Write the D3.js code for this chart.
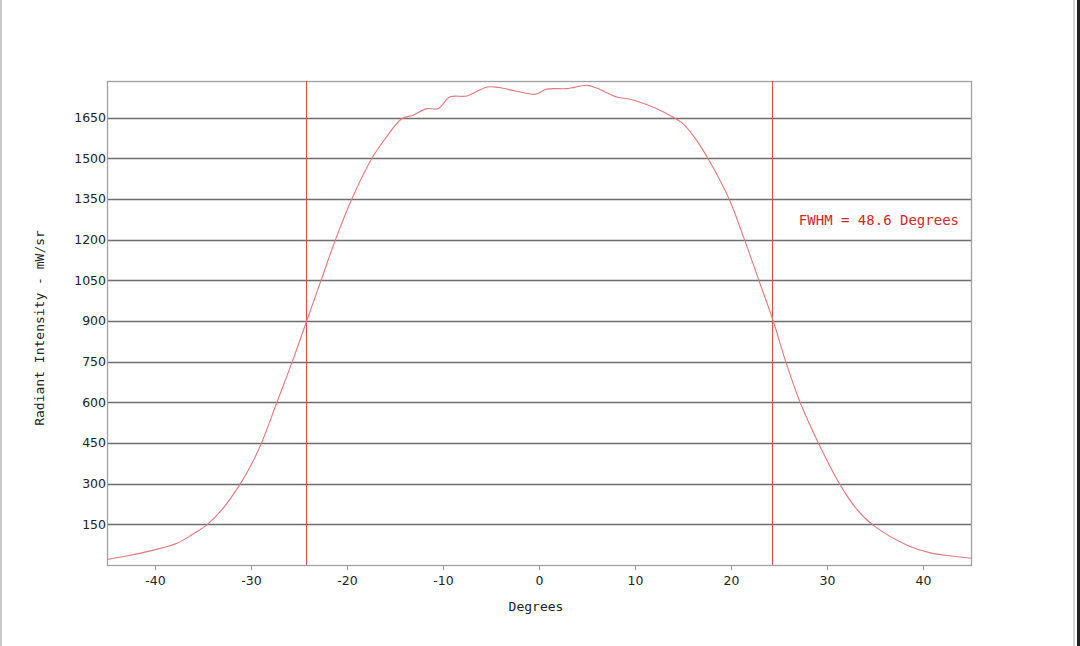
<!DOCTYPE html>
<head>
    <meta charset="utf-8">
    <title>Radiant Intensity vs Degrees</title>
    <style>
        body { margin: 0; background: #fff; }
        .tick text { fill: #222; }
    </style>
</head>
<body>

<script src="https://cdn.jsdelivr.net/npm/d3@7/dist/d3.min.js"></script>

<script>

    // angle (degrees) and radiant intensity (mW/sr)
    const degrees = [-45, -43, -40.5, -37.7, -36, -34.6, -33, -31.1, -29.9, -28.9,
        -27.3, -25.7, -24.2, -22.7, -21.2, -19.5, -17.4, -16.0, -14.3, -13.1,
        -11.7, -10.5, -9.3, -7.5, -5.4, -4.2, -2.3, -0.4, 0.8, 2.9,
        5.0, 6.0, 8.1, 9.5, 11.2, 12.6, 13.6, 15.0, 16.4, 17.8,
        19.8, 21.3, 22.9, 24.4, 25.7, 27.2, 29.1, 31.3, 33, 34.8,
        38.3, 41.0, 43, 45];
    const intensity = [20, 33, 52, 80, 115, 148, 205, 300, 375, 450,
        600, 750, 900, 1050, 1200, 1350, 1500, 1573, 1646, 1659,
        1683, 1683, 1726, 1730, 1763, 1761, 1747, 1736, 1755, 1757,
        1769, 1759, 1726, 1718, 1698, 1677, 1659, 1628, 1567, 1487,
        1350, 1210, 1050, 900, 750, 600, 450, 300, 210, 147,
        74, 43, 33, 25];

    const xTicks = [-40, -30, -20, -10, 0, 10, 20, 30, 40];
    const yTicks = [150, 300, 450, 600, 750, 900, 1050, 1200, 1350, 1500, 1650];
    const fwhmLines = [-24.3, 24.3];
    const fwhmLabel = 'FWHM = 48.6 Degrees';

    const margin = {top: 81, right: 109, bottom: 81, left: 107};
    const W = 1080, H = 646;
    const width = W - margin.left - margin.right;
    const height = H - margin.top - margin.bottom;

    const data = degrees.map((d, i) => ({deg: d, val: intensity[i]}));

    const x = d3.scaleLinear().domain([-45, 45]).range([0, width]);
    const y = d3.scaleLinear().domain([0, 1785]).range([height, 0]);

    const root = d3.select('body').append('svg')
        .attr('width', W)
        .attr('height', H);

    // page frame
    root.append('line').attr('x1', 1).attr('x2', 1).attr('y1', 0).attr('y2', H)
        .attr('stroke', '#c8c8c8').attr('stroke-width', 2);
    root.append('line').attr('x1', 1074).attr('x2', 1074).attr('y1', 0).attr('y2', H)
        .attr('stroke', '#d8d8d8').attr('stroke-width', 2);
    root.append('line').attr('x1', 1078.5).attr('x2', 1078.5).attr('y1', 0).attr('y2', H)
        .attr('stroke', '#222').attr('stroke-width', 3);

    const svg = root.append('g')
        .attr('transform', 'translate(' + margin.left + ',' + margin.top + ')');

    // horizontal grid
    svg.append('g')
        .selectAll('line')
        .data(yTicks)
        .enter().append('line')
        .attr('x1', 0)
        .attr('x2', width)
        .attr('y1', d => Math.round(y(d)) + 0.5)
        .attr('y2', d => Math.round(y(d)) + 0.5)
        .attr('stroke', '#6e6e6e')
        .attr('stroke-width', 1.3);

    // plot frame
    svg.append('rect')
        .attr('x', 0.5).attr('y', 0.5)
        .attr('width', width).attr('height', height)
        .attr('fill', 'none')
        .attr('stroke', '#a0a0a0')
        .attr('stroke-width', 1.3);

    // x axis
    const xAxis = d3.axisBottom(x)
        .tickValues(xTicks)
        .tickSize(5)
        .tickPadding(6)
        .tickFormat(d3.format('d'));

    const gx = svg.append('g')
        .attr('transform', 'translate(0,' + height + ')')
        .call(xAxis);
    gx.select('.domain').remove();
    gx.selectAll('.tick line').attr('stroke', '#999');
    gx.selectAll('.tick text')
        .style('font-family', '"DejaVu Sans", Verdana, sans-serif')
        .style('font-size', '12.5px')
        .text(d => d < 0 ? '-' + Math.abs(d) : d);

    // y axis
    const yAxis = d3.axisLeft(y)
        .tickValues(yTicks)
        .tickSize(0)
        .tickPadding(1)
        .tickFormat(d3.format('d'));

    const gy = svg.append('g').call(yAxis);
    gy.select('.domain').remove();
    gy.selectAll('.tick text')
        .style('font-family', '"DejaVu Sans", Verdana, sans-serif')
        .style('font-size', '12.5px');

    // FWHM markers
    svg.append('g')
        .selectAll('line')
        .data(fwhmLines)
        .enter().append('line')
        .attr('x1', d => Math.round(x(d)) + 0.5)
        .attr('x2', d => Math.round(x(d)) + 0.5)
        .attr('y1', 0)
        .attr('y2', height)
        .attr('stroke', '#d45050')
        .attr('stroke-width', 1.1);

    // intensity curve
    const line = d3.line()
        .x(d => x(d.deg))
        .y(d => y(d.val))
        .curve(d3.curveCatmullRom.alpha(0.5));

    svg.append('path')
        .datum(data)
        .attr('d', line)
        .attr('fill', 'none')
        .attr('stroke', '#e07a7a')
        .attr('stroke-width', 1.1);

    svg.append('text')
        .attr('x', 852)
        .attr('y', y(1255))
        .attr('text-anchor', 'end')
        .style('font-family', '"DejaVu Sans Mono", monospace')
        .style('font-size', '14px')
        .attr('fill', '#cc2a2a')
        .text(fwhmLabel);

    // axis titles
    svg.append('text')
        .attr('x', width / 2 - 3)
        .attr('y', height + 46)
        .attr('text-anchor', 'middle')
        .style('font-family', '"DejaVu Sans Mono", monospace')
        .style('font-size', '13px')
        .attr('fill', '#222')
        .text('Degrees');

    svg.append('text')
        .attr('transform', 'translate(' + (-63) + ',' + (y(900) + 7) + ') rotate(-90)')
        .attr('text-anchor', 'middle')
        .style('font-family', '"DejaVu Sans Mono", monospace')
        .style('font-size', '13px')
        .attr('fill', '#222')
        .text('Radiant Intensity - mW/sr');

</script>

</body>
